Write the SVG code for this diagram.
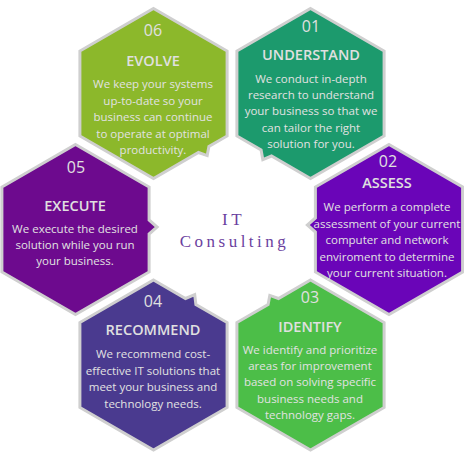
<svg xmlns="http://www.w3.org/2000/svg" width="464" height="459" viewBox="0 0 464 459">
<style>
.hex{stroke:#cfcfcf;stroke-width:3;stroke-linejoin:miter}
.num{font-family:"Open Sans","Liberation Sans",sans-serif;font-size:16px;fill:#e0e0e0;text-anchor:middle}
.ttl{font-family:"Open Sans","Liberation Sans",sans-serif;font-size:14.5px;font-weight:600;fill:#e0e0e0;text-anchor:middle}
.body{font-family:"Open Sans","Liberation Sans",sans-serif;font-size:11.5px;fill:#e2e2e2;text-anchor:middle}
.center{font-family:"Liberation Serif","Times New Roman",serif;font-size:17px;fill:#6b3fa0;text-anchor:middle;letter-spacing:3.5px}
</style>
<rect width="464" height="459" fill="#ffffff"/>
<g id="connectors"/>
<g id="node-06">
<polygon class="hex" fill="#8cb82b" points="153.5,8.5 227.1,51 227.1,136 208.9,146.5 207.2,155.6 198.5,152.5 153.5,178.5 79.9,136 79.9,51"/>
<text class="num" x="153" y="35.5">06</text>
<text class="ttl" x="153" y="66">EVOLVE</text>
<text class="body" x="153" y="88">We keep your systems</text>
<text class="body" x="153" y="104.5">up-to-date so your</text>
<text class="body" x="153" y="121">business can continue</text>
<text class="body" x="153" y="137.5">to operate at optimal</text>
<text class="body" x="153" y="154">productivity.</text>
</g>
<g id="node-01">
<polygon class="hex" fill="#1c9a6d" points="310.5,8.5 384.1,51 384.1,136 310.5,178.5 271.5,156 262.8,159.6 261.1,150 236.9,136 236.9,51"/>
<text class="num" x="311" y="31.5">01</text>
<text class="ttl" x="311" y="60">UNDERSTAND</text>
<text class="body" x="311" y="83">We conduct in-depth</text>
<text class="body" x="311" y="99.2">research to understand</text>
<text class="body" x="311" y="115.4">your business so that we</text>
<text class="body" x="311" y="131.6">can tailor the right</text>
<text class="body" x="311" y="147.8">solution for you.</text>
</g>
<g id="node-02">
<polygon class="hex" fill="#6a05b8" points="389,144.5 462.6,187 462.6,272 389,314.5 315.4,272 315.4,232 307.4,225 315.4,218 315.4,187"/>
<text class="num" x="388" y="166.5">02</text>
<text class="ttl" x="387" y="188">ASSESS</text>
<text class="body" x="387" y="211">We perform a complete</text>
<text class="body" x="387" y="227.5">assessment of your current</text>
<text class="body" x="387" y="244">computer and network</text>
<text class="body" x="387" y="260.5">enviroment to determine</text>
<text class="body" x="387" y="277">your current situation.</text>
</g>
<g id="node-05">
<polygon class="hex" fill="#6d0a8e" points="75.5,144.5 149.1,187 149.1,220 157.1,227 149.1,234 149.1,272 75.5,314.5 1.9,272 1.9,187"/>
<text class="num" x="76" y="172.5">05</text>
<text class="ttl" x="75" y="211">EXECUTE</text>
<text class="body" x="75" y="233">We execute the desired</text>
<text class="body" x="75" y="249.2">solution while you run</text>
<text class="body" x="75" y="265.4">your business.</text>
</g>
<g id="node-04">
<polygon class="hex" fill="#4a3a8f" points="153.5,280 185.5,298.5 194.7,294.6 195.9,304.5 227.1,322.5 227.1,407.5 153.5,450 79.9,407.5 79.9,322.5"/>
<text class="num" x="153" y="306.5">04</text>
<text class="ttl" x="153" y="335">RECOMMEND</text>
<text class="body" x="153" y="358">We recommend cost-</text>
<text class="body" x="153" y="374.5">effective IT solutions that</text>
<text class="body" x="153" y="391">meet your business and</text>
<text class="body" x="153" y="407.5">technology needs.</text>
</g>
<g id="node-03">
<polygon class="hex" fill="#4cbe48" points="310.5,280 384.1,322.5 384.1,407.5 310.5,450 236.9,407.5 236.9,322.5 268.1,304.5 269.8,295.4 278.5,298.5"/>
<text class="num" x="310" y="302.5">03</text>
<text class="ttl" x="310" y="332">IDENTIFY</text>
<text class="body" x="310" y="354">We identify and prioritize</text>
<text class="body" x="310" y="370.2">areas for improvement</text>
<text class="body" x="310" y="386.4">based on solving specific</text>
<text class="body" x="310" y="402.6">business needs and</text>
<text class="body" x="310" y="418.8">technology gaps.</text>
</g>
<g id="center-label">
<text class="center" x="233.5" y="225">IT</text>
<text class="center" x="234.5" y="247">Consulting</text>
</g>
</svg>
